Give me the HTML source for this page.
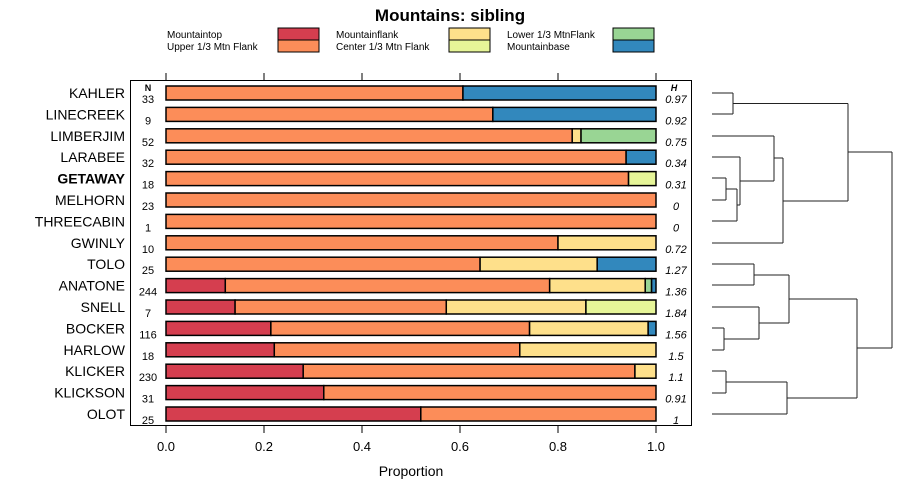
<!DOCTYPE html>
<html><head><meta charset="utf-8"><style>
body{margin:0;background:#fff;}
svg{display:block;font-family:"Liberation Sans",sans-serif;}
</style></head><body>
<svg id="c" width="900" height="500" viewBox="0 0 900 500"></svg>
<script>
const sites=["KAHLER","LINECREEK","LIMBERJIM","LARABEE","GETAWAY","MELHORN","THREECABIN","GWINLY","TOLO","ANATONE","SNELL","BOCKER","HARLOW","KLICKER","KLICKSON","OLOT"];
const nVals=[33,9,52,32,18,23,1,10,25,244,7,116,18,230,31,25];
const hVals=["0.97","0.92","0.75","0.34","0.31","0","0","0.72","1.27","1.36","1.84","1.56","1.5","1.1","0.91","1"];
const categories=["Mountaintop","Upper 1/3 Mtn Flank","Mountainflank","Center 1/3 Mtn Flank","Lower 1/3 MtnFlank","Mountainbase"];
const mountaintop=[0,0,0,0,0,0,0,0,0,0.121,0.141,0.214,0.221,0.280,0.322,0.520];
const upperFlank=[0.606,0.667,0.829,0.939,0.944,1,1,0.8,0.641,0.662,0.431,0.528,0.501,0.677,0.678,0.480];
const mountainflank=[0,0,0.018,0,0,0,0,0.2,0.239,0.195,0.285,0.242,0.278,0.043,0,0];
const centerFlank=[0,0,0,0,0.056,0,0,0,0,0,0.143,0,0,0,0,0];
const lowerFlank=[0,0,0.153,0,0,0,0,0,0,0.013,0,0,0,0,0,0];
const mountainbase=[0.394,0.333,0,0.061,0,0,0,0,0.12,0.009,0,0.016,0,0,0,0];
const xTicks=[0,0.2,0.4,0.6,0.8,1];
const colors=["#d53e4f","#fc8d59","#fee08b","#e6f598","#99d594","#3288bd"];
const series=[mountaintop,upperFlank,mountainflank,centerFlank,lowerFlank,mountainbase];
const NS="http://www.w3.org/2000/svg";
const svg=document.getElementById('c');
function el(t,a,txt){const e=document.createElementNS(NS,t);for(const k in a)e.setAttribute(k,a[k]);if(txt!==undefined)e.textContent=txt;svg.appendChild(e);return e;}
const x=v=>166+v*490;
const y=i=>93+i*21.4;
let e;
e=el('text',{x:450,y:21,'text-anchor':'middle','font-size':17,'font-weight':'bold'},'Mountains: sibling');

// legend
const legPos=[[167,278,0],[167,278,1],[336,449,0],[336,449,1],[507,613,0],[507,613,1]];
categories.forEach((c,i)=>{const p=legPos[i];const yy=28+p[2]*12;
 e=el('text',{x:p[0],y:yy+10,'font-size':10},c);
 
 e=el('rect',{x:p[1],y:yy,width:41,height:12,fill:colors[i],stroke:'#000','stroke-width':1});
 
});
// panel box
e=el('rect',{x:130.5,y:80.5,width:561,height:345,fill:'none',stroke:'#000','stroke-width':1});

xTicks.forEach(t=>{
 e=el('line',{x1:x(t),x2:x(t),y1:73,y2:80,stroke:'#000'});
 
 e=el('line',{x1:x(t),x2:x(t),y1:426,y2:433,stroke:'#000'});
 
 e=el('text',{x:x(t),y:451,'text-anchor':'middle','font-size':13},t.toFixed(1).replace('1.0','1.0'));
 
});
e=el('text',{x:411,y:476,'text-anchor':'middle','font-size':14},'Proportion');

e=el('text',{x:148,y:91,'text-anchor':'middle','font-size':9,'font-weight':'bold'},'N');

e=el('text',{x:674,y:91,'text-anchor':'middle','font-size':9,'font-weight':'bold','font-style':'italic'},'H');

sites.forEach((s,i)=>{
 const cy=y(i);
 e=el('text',{x:125,y:cy+5,'text-anchor':'end','font-size':14,'font-weight':s==='GETAWAY'?'bold':'normal'},s);
 
 e=el('text',{x:148,y:cy+10,'text-anchor':'middle','font-size':11},nVals[i]);
 
 e=el('text',{x:676,y:cy+10,'text-anchor':'middle','font-size':11,'font-style':'italic'},hVals[i]);
 
 let acc=0;
 series.forEach((ser,k)=>{const v=ser[i];if(v<=0)return;
  e=el('rect',{x:x(acc),y:cy-7,width:x(acc+v)-x(acc),height:14,fill:colors[k],stroke:'#000','stroke-width':1.5});
  
  acc+=v;});
});
// dendrogram
const segs=[[712,93,733,93],[712,114,733,114],[733,93,733,114],
[712,178,726,178],[712,200,726,200],[726,178,726,200],
[726,189,737,189],[712,221,737,221],[737,189,737,221],
[712,157,740,157],[737,205,740,205],[740,157,740,205],
[712,136,774,136],[740,181,774,181],[774,136,774,181],
[774,158,783,158],[712,243,783,243],[783,158,783,243],
[733,103.5,848,103.5],[783,201,848,201],[848,103.5,848,201],
[712,264,754,264],[712,285,754,285],[754,264,754,285],
[712,328,724,328],[712,350,724,350],[724,328,724,350],
[712,307,759,307],[724,339,759,339],[759,307,759,339],
[754,275,789,275],[759,323,789,323],[789,275,789,323],
[712,371,726,371],[712,393,726,393],[726,371,726,393],
[726,382,787,382],[712,414,787,414],[787,382,787,414],
[789,299,857,299],[787,398,857,398],[857,299,857,398],
[848,152,892,152],[857,348,892,348],[892,152,892,348]];
segs.forEach(s=>{e=el('line',{x1:s[0],y1:s[1],x2:s[2],y2:s[3],stroke:'#222','stroke-width':1});
 });
</script>
</body></html>
